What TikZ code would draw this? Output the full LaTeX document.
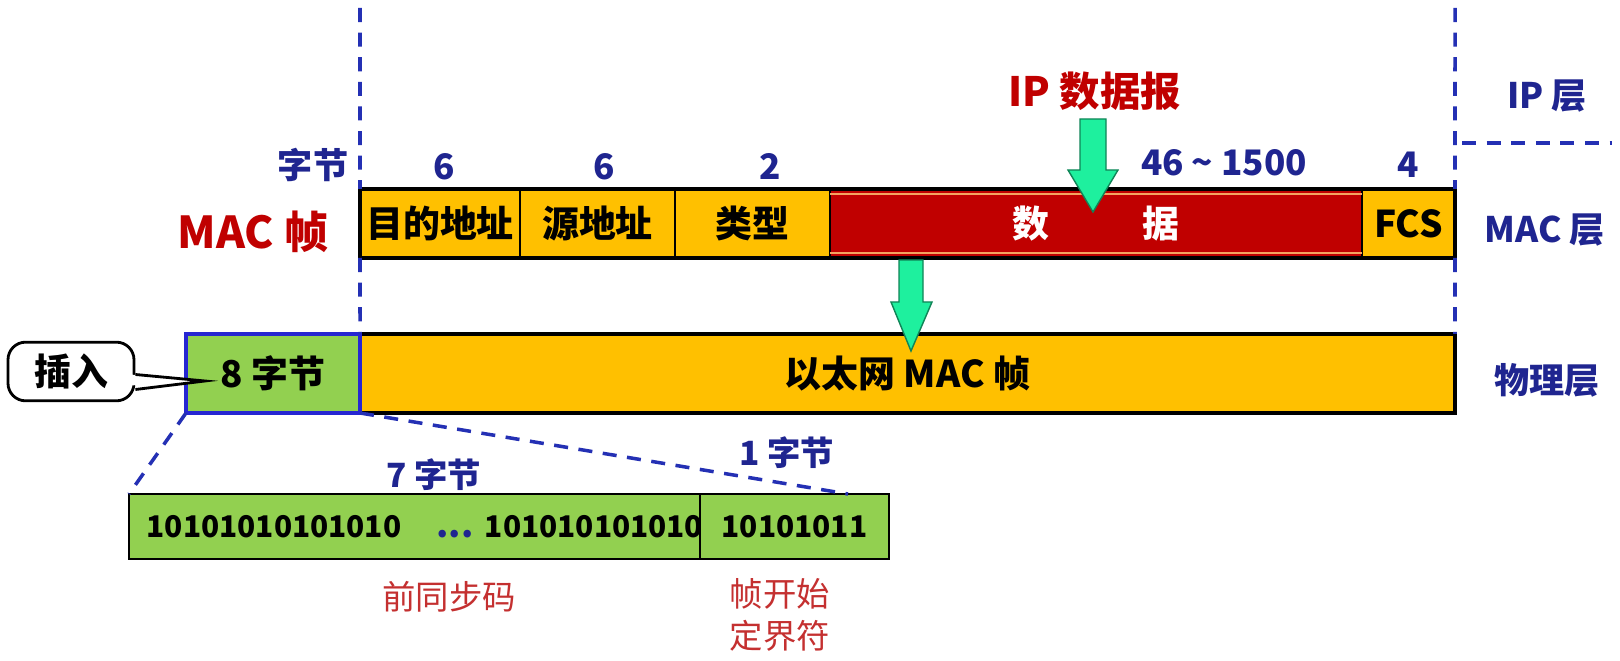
\documentclass[tikz,border=0pt]{standalone}
\usepackage{fontspec}
\setmainfont{Noto Sans CJK SC}
\usetikzlibrary{positioning}

\definecolor{gold}{HTML}{FFC000}
\definecolor{darkred}{HTML}{C00000}
\definecolor{labelred}{HTML}{C43030}
\definecolor{leafgreen}{HTML}{92D050}
\definecolor{arrowgreen}{HTML}{1EF09E}
\definecolor{navy}{HTML}{1F2590}
\definecolor{dashblue}{HTML}{2430B4}
\definecolor{borderblue}{HTML}{2626D2}
\definecolor{paleorange}{HTML}{F4A460}

\newcommand{\fsz}[1]{\fontsize{#1}{#1}\selectfont}

\tikzset{
  cell/.style={draw=black, line width=0.5pt, inner sep=0pt, outer sep=0pt,
    minimum height=6.9mm, font=\bfseries\fsz{10.5}},
  layerlbl/.style={text=navy, font=\bfseries\fsz{10}},
  bytelbl/.style={text=navy, font=\bfseries\fsz{10}},
  bits/.style={font=\bfseries\fsz{8.5}},
  guide/.style={draw=dashblue, line width=1pt, dash pattern=on 4pt off 3pt},
  blockarrow/.style={fill=arrowgreen, draw=arrowgreen!55!black, line width=0.4pt}
}

\begin{document}
\begin{tikzpicture}[x=0.1mm, y=-0.1mm]
    \useasboundingbox (0,0) rectangle (1620,661);

    % MAC frame fields
    \node[cell, fill=gold, minimum width=16mm] (dst) at (440,223.5) {目的地址};
    \node[cell, fill=gold, minimum width=15.5mm, right=0pt of dst] (src) {源地址};
    \node[cell, fill=gold, minimum width=15.5mm, right=0pt of src] (type) {类型};
    \node[cell, fill=darkred, text=white, minimum width=53.2mm, right=0pt of type] (data) {数\hspace{9.4mm}据};
    \node[cell, fill=gold, minimum width=9.3mm, right=0pt of data] (fcs) {FCS};
    \draw[paleorange, line width=0.8pt] ([yshift=-1.4pt]data.north west) -- ([yshift=-1.4pt]data.north east);
    \draw[paleorange, line width=0.8pt] ([yshift=1.4pt]data.south west) -- ([yshift=1.4pt]data.south east);
    \draw[line width=1.2pt] (dst.north west) rectangle (fcs.south east);

    % field sizes
    \node[bytelbl] (bytes) at (313,165) {字节};
    \node[bytelbl] (n1) at (444,167) {6};
    \node[bytelbl] (n2) at (604,167) {6};
    \node[bytelbl] (n3) at (770,167) {2};
    \node[bytelbl] (n4) at (1224,163) {46 \textasciitilde{} 1500};
    \node[bytelbl] (n5) at (1408,165) {4};

    \node[text=darkred, font=\bfseries\fsz{12.5}] (macframe) at (253,232) {MAC 帧};
    \node[text=darkred, font=\bfseries\fsz{11.5}] (ipdata) at (1095,91) {IP 数据报};

    % layers
    \node[layerlbl] (iplayer) at (1547,96) {IP 层};
    \node[layerlbl] (maclayer) at (1545,230) {MAC 层};
    \node[layerlbl] (phylayer) at (1547,380) {物理层};

    % physical layer frame
    \node[cell, fill=gold, line width=1.2pt, minimum width=109.5mm, minimum height=7.9mm] (frame) at (907.5,373.5) {以太网 MAC 帧};
    \node[cell, fill=leafgreen, draw=borderblue, line width=1.2pt, minimum width=17.4mm, minimum height=7.9mm, left=0pt of frame] (pre) {8 字节};

    % preamble detail
    \node[cell, fill=leafgreen, line width=0.6pt, minimum width=57.1mm, minimum height=6.5mm] (pream) at (414.5,526.5) {};
    \node[cell, fill=leafgreen, line width=0.6pt, minimum width=18.9mm, minimum height=6.5mm, right=0pt of pream, bits] (sfd) {10101011};
    \node[bits] (b1) at (274,527) {10101010101010};
    \node[bits] (b2) at (594,527) {101010101010};
    \node[text=navy, font=\bfseries\fsz{10}] (dots) at (455,534) {...};

    \node[bytelbl, font=\bfseries\fsz{9.5}] (n7) at (434,475) {7 字节};
    \node[bytelbl, font=\bfseries\fsz{9.5}] (n8) at (787,453) {1 字节};
    \node[text=labelred, font=\fsz{9.5}] (preamlbl) at (449,597) {前同步码};
    \node[text=labelred, font=\fsz{9.5}, align=center] (sfdlbl) at (780,615) {帧开始\\[2.5pt]定界符};

    % dashed guides
    \coordinate (lefttop) at (360,8);
    \coordinate (righttop) at (1455,8);
    \coordinate (sepa) at (1462,143);
    \coordinate (sepb) at (1612,143);
    \coordinate (sfdend) at (848,494);
    \draw[guide] (lefttop) -- (dst.north west);
    \draw[guide] (dst.south west) -- (frame.north west);
    \draw[guide] (righttop) -- (fcs.north east);
    \draw[guide] (fcs.south east) -- (frame.north east);
    \draw[guide] (sepa) -- (sepb);
    \draw[guide] (pre.south west) -- (pream.north west);
    \draw[guide] (pre.south east) -- (sfdend);

    % green arrows
    \draw[blockarrow] (1080,119) -- (1106,119) -- (1106,170) -- (1118,170) -- (1093,212) -- (1068,170) -- (1080,170) -- cycle;
    \draw[blockarrow] (899,260) -- (923,260) -- (923,302) -- (932,302) -- (911,351) -- (891,302) -- (899,302) -- cycle;

    % callout
    \node[draw, line width=0.8pt, fill=white, rounded corners=5pt, minimum width=12.6mm, minimum height=4.9mm, font=\bfseries\fsz{10.5}] (insert) at (71,371.5) {插入};
    \coordinate (pointer) at (205,381);
    \fill[white] (130,374.5) -- (pointer) -- (130,385.5) -- cycle;
    \draw[line width=0.8pt] ([yshift=-0.3mm]insert.east) -- (pointer) -- ([yshift=-1.8mm]insert.east);
\end{tikzpicture}
\end{document}
